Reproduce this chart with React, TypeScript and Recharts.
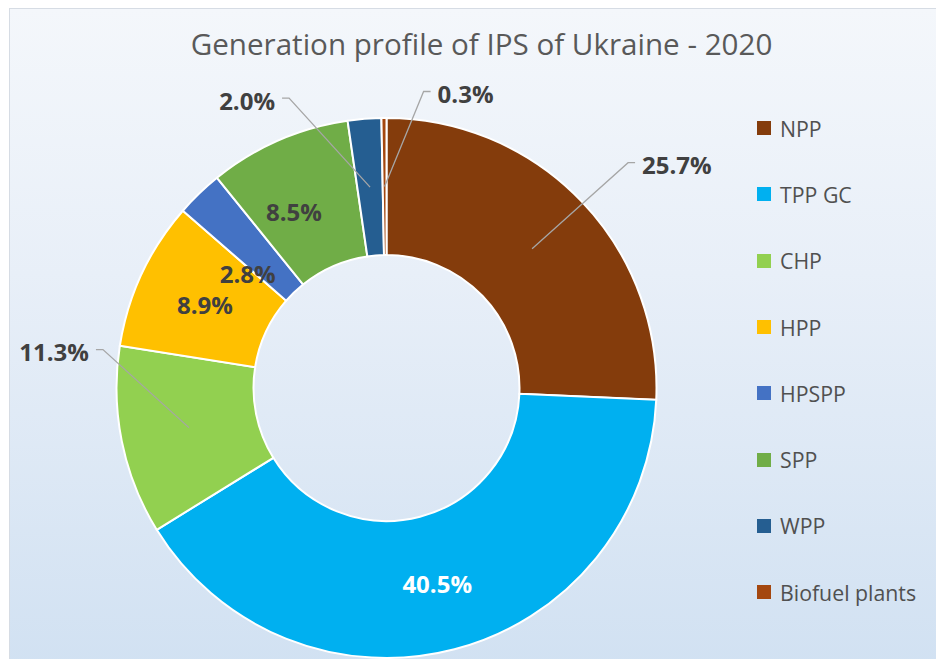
import React from "react";
import { PieChart, Pie, Cell, Legend } from "recharts";

const TITLE = "Generation profile of IPS of Ukraine - 2020";
const CATEGORIES = ["NPP", "TPP GC", "CHP", "HPP", "HPSPP", "SPP", "WPP", "Biofuel plants"];
const SHARES = [25.7, 40.5, 11.3, 8.9, 2.8, 8.5, 2.0, 0.3];
const COLORS = ["#843C0C", "#00B0F0", "#92D050", "#FFC000", "#4472C4", "#70AD47", "#255E91", "#A4470F"];

const data = CATEGORIES.map((name, i) => ({ name, value: SHARES[i] }));

// label placement relative to the mid-ring point of each slice
const LABEL_LAYOUT = [
  { dx: 110, dy: -84, anchor: "start", line: true, white: false },
  { dx: 0, dy: 0, anchor: "middle", line: false, white: true },
  { dx: -100, dy: -76, anchor: "end", line: true, white: false },
  { dx: 1, dy: 2, anchor: "middle", line: false, white: false },
  { dx: 1, dy: 31, anchor: "middle", line: false, white: false },
  { dx: -12, dy: 8, anchor: "middle", line: false, white: false },
  { dx: -95, dy: -87, anchor: "end", line: true, white: false },
  { dx: 53, dy: -93, anchor: "start", line: true, white: false },
];

const RAD = Math.PI / 180;
const FONT = "'Open Sans', 'DejaVu Sans', sans-serif";

const renderLabel = (props: any) => {
  const { cx, cy, midAngle, innerRadius, outerRadius, index, value } = props;
  const r = (innerRadius + outerRadius) / 2;
  const ax = cx + r * Math.cos(-midAngle * RAD);
  const ay = cy + r * Math.sin(-midAngle * RAD);
  const L = LABEL_LAYOUT[index];
  const tx = ax + L.dx;
  const ty = ay + L.dy;
  let line = null;
  if (L.line) {
    const dir = L.anchor === "start" ? -1 : 1;
    const ex = tx + dir * 14;
    const ey = ty - 2;
    const fx = tx + dir * 7;
    line = (
      <polyline
        points={`${ax},${ay} ${ex},${ey} ${fx},${ey}`}
        fill="none"
        stroke="#A6A6A6"
        strokeWidth={1.3}
      />
    );
  }
  return (
    <g key={`lbl-${index}`}>
      {line}
      <text
        x={tx}
        y={ty}
        textAnchor={L.anchor}
        dominantBaseline="central"
        fill={L.white ? "#FFFFFF" : "#404040"}
        fontFamily={FONT}
        fontWeight={700}
        fontSize={24}
      >
        {`${Number(value).toFixed(1)}%`}
      </text>
    </g>
  );
};

const renderLegend = () => (
  <div style={{ fontFamily: FONT }}>
    {CATEGORIES.map((c, i) => (
      <div key={c} style={{ display: "flex", alignItems: "center", height: 66.3 }}>
        <div style={{ width: 14, height: 14, background: COLORS[i], marginRight: 9 }} />
        <span style={{ fontSize: 21.3, color: "#505050", whiteSpace: "nowrap" }}>{c}</span>
      </div>
    ))}
  </div>
);

export default function App() {
  return (
    <div style={{ position: "absolute", left: 0, top: 0, width: 936, height: 659, background: "#ffffff", overflow: "hidden" }}>
      <div
        style={{
          position: "absolute",
          left: 9,
          top: 8,
          width: 940,
          height: 660,
          borderLeft: "1.5px solid #D6DCE4",
          borderTop: "1.5px solid #D6DCE4",
          background: "linear-gradient(180deg, #F4F7FB 0%, #E8EFF8 40%, #D1E1F2 100%)",
        }}
      />
      <div
        style={{
          position: "absolute",
          left: 0,
          top: 24,
          width: 963,
          textAlign: "center",
          fontFamily: FONT,
          fontSize: 29.6,
          color: "#595959",
          lineHeight: "40px",
          whiteSpace: "nowrap",
        }}
      >
        {TITLE}
      </div>
      <div style={{ position: "absolute", left: 0, top: 0 }}>
        <PieChart width={936} height={659} margin={{ top: 0, right: 0, bottom: 0, left: 0 }}>
          <Pie
            data={data}
            dataKey="value"
            nameKey="name"
            cx={386.5}
            cy={388}
            innerRadius={133}
            outerRadius={270}
            startAngle={90}
            endAngle={-270}
            stroke="#FFFFFF"
            strokeWidth={2}
            label={renderLabel}
            labelLine={false}
            isAnimationActive={false}
          >
            {data.map((d, i) => (
              <Cell key={d.name} fill={COLORS[i]} />
            ))}
          </Pie>
          <Legend
            content={renderLegend}
            layout="vertical"
            wrapperStyle={{ position: "absolute", left: 757, top: 95, width: 180 }}
          />
        </PieChart>
      </div>
    </div>
  );
}
